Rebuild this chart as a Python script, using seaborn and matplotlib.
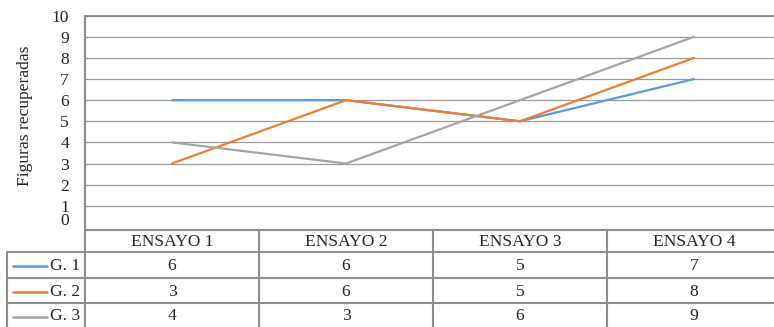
import matplotlib
matplotlib.use("Agg")
import matplotlib.pyplot as plt
import matplotlib.transforms as mtransforms
import pandas as pd
import seaborn as sns

# ---- data ----
categories = ["ENSAYO 1", "ENSAYO 2", "ENSAYO 3", "ENSAYO 4"]
series_names = ["G. 1", "G. 2", "G. 3"]
g1 = [6, 6, 5, 7]
g2 = [3, 6, 5, 8]
g3 = [4, 3, 6, 9]
series_values = [g1, g2, g3]
colors = ["#5B9BD5", "#ED7D31", "#A5A5A5"]
y_ticks = list(range(0, 11))
y_label = "Figuras recuperadas"

rows = []
for name, vals in zip(series_names, series_values):
    for i, (cat, v) in enumerate(zip(categories, vals)):
        rows.append({"serie": name, "pos": i, "ensayo": cat, "valor": v})
df = pd.DataFrame(rows)

sns.set_theme(style="white")
plt.rcParams["font.family"] = ["Liberation Serif", "DejaVu Serif"]

W, H = 774, 327
fig = plt.figure(figsize=(W / 100, H / 100), dpi=100)

# layout in pixels
ax_left, col_w = 85, 174
ax_right = ax_left + col_w * len(categories)
ax_top, ax_bottom = 15.7, 229.3
table_top = 230
row_lines = [252, 278, 303]
row_bottom = 330
table_left = 7
line_col = "#8E8E8E"
fs = 12.6

ax = fig.add_axes([ax_left / W, 1 - ax_bottom / H,
                   (ax_right - ax_left) / W, (ax_bottom - ax_top) / H])
sns.lineplot(data=df, x="pos", y="valor", hue="serie", palette=colors,
             linewidth=1.6, legend=False, ax=ax, sort=False)
ax.set_xlim(-0.5, len(categories) - 0.5)
ax.set_ylim(-0.115, 10)
ax.set_yticks(y_ticks)
ax.set_yticklabels([str(t) for t in y_ticks], fontsize=fs)
ax.set_xticks([])
ax.set_xlabel("")
ax.set_ylabel(y_label, fontsize=fs)
ax.tick_params(axis="y", length=0, pad=11.5)
ax.grid(axis="y", color="#9A9A9A", linewidth=0.9)
ax.grid(axis="x", visible=False)
for gl in ax.get_ygridlines()[:1]:
    gl.set_visible(False)
ax.set_axisbelow(True)
for side in ["right", "bottom"]:
    ax.spines[side].set_visible(False)
ax.spines["top"].set_color("#8A8A8A")
ax.spines["top"].set_linewidth(1.3)
ax.spines["left"].set_color(line_col)
ax.spines["left"].set_linewidth(1.5)
# the zero label sits a little higher
zl = ax.get_yticklabels()[0]
zl.set_transform(zl.get_transform() + mtransforms.ScaledTranslation(0, 8 / 100, fig.dpi_scale_trans))
ax.yaxis.set_label_coords(-0.0747, 0.53)

# ---- data table below the plot ----
tx = fig.add_axes([0, 0, 1, 1])
tx.set_xlim(0, W)
tx.set_ylim(H, 0)
tx.axis("off")
tx.patch.set_alpha(0)

lw_t = 1.5
tx.plot([ax_left, ax_right], [table_top, table_top], color=line_col, lw=lw_t)
for y in row_lines:
    tx.plot([table_left, ax_right], [y, y], color=line_col, lw=lw_t)
tx.plot([table_left, table_left], [row_lines[0], row_bottom], color=line_col, lw=lw_t)
for i in range(len(categories) + 1):
    x = ax_left + col_w * i
    y0 = ax_top if i == 0 else table_top
    tx.plot([x, x], [y0, row_bottom], color=line_col, lw=lw_t)

for i, cat in enumerate(categories):
    tx.text(ax_left + col_w * (i + 0.5), (table_top + row_lines[0]) / 2 + 1, cat,
            ha="center", va="center", fontsize=fs)

row_edges = row_lines + [row_bottom - 2]
for r, (name, vals, c) in enumerate(zip(series_names, series_values, colors)):
    yc = (row_edges[r] + row_edges[r + 1]) / 2 + 1
    tx.plot([12, 48], [yc, yc], color=c, lw=1.8, solid_capstyle="butt")
    tx.text(50, yc, name, ha="left", va="center", fontsize=fs)
    for i, v in enumerate(vals):
        tx.text(ax_left + col_w * (i + 0.5), yc, str(v), ha="center", va="center", fontsize=fs)

fig.savefig("out.png", dpi=100)
